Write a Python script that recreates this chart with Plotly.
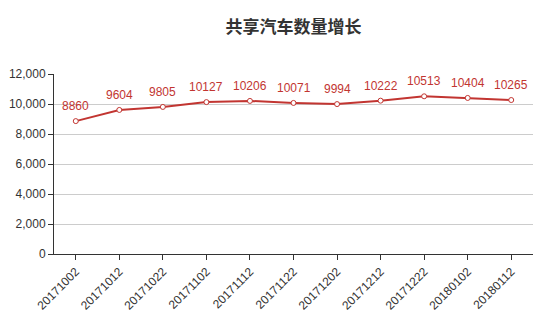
import plotly.graph_objects as go

dates = ["20171002", "20171012", "20171022", "20171102", "20171112", "20171122",
         "20171202", "20171212", "20171222", "20180102", "20180112"]
counts = [8860, 9604, 9805, 10127, 10206, 10071, 9994, 10222, 10513, 10404, 10265]
y_ticks = [0, 2000, 4000, 6000, 8000, 10000, 12000]
title = "共享汽车数量增长"

red = "#c23531"

fig = go.Figure()
fig.add_trace(go.Scatter(
    x=dates, y=counts, mode="lines+markers",
    line=dict(color=red, width=2),
    marker=dict(symbol="circle", size=5, color="white", line=dict(color=red, width=1)),
    cliponaxis=False, hoverinfo="x+y", showlegend=False,
))

# category axis: annotation x given as category index
annotations = [
    dict(x=i, y=v, xref="x", yref="y", text=str(v), showarrow=False,
         yshift=15, font=dict(color=red, size=12, family="Liberation Sans, Arial, sans-serif"))
    for i, v in enumerate(counts)
]

fig.update_layout(
    width=550, height=314,
    margin=dict(l=54, r=17, t=74, b=60, autoexpand=False),
    paper_bgcolor="white", plot_bgcolor="white",
    font=dict(family="Liberation Sans, Arial, sans-serif", color="#333", size=12),
    annotations=annotations,
    title=dict(text="<b>" + title + "</b>", x=(54 + 533) / 2 / 550, xanchor="center",
               y=1 - 27 / 314, yanchor="middle",
               font=dict(size=17, color="#333", family="Noto Sans CJK SC")),
    xaxis=dict(type="category", range=[-0.5, len(dates) - 0.5],
               showline=True, linecolor="#333", linewidth=1,
               ticks="outside", ticklen=5, tickcolor="#333",
               tickangle=-45, tickfont=dict(size=12, color="#333"),
               showgrid=False, zeroline=False, fixedrange=True, automargin=False),
    yaxis=dict(range=[0, 12000], tickvals=y_ticks, tickformat=",d",
               showline=True, linecolor="#333", linewidth=1,
               ticks="outside", ticklen=5, tickcolor="#333",
               showgrid=True, gridcolor="#ccc", gridwidth=1, automargin=False,
               zeroline=False, tickfont=dict(size=12, color="#333")),
)

fig.write_html("out.html")
